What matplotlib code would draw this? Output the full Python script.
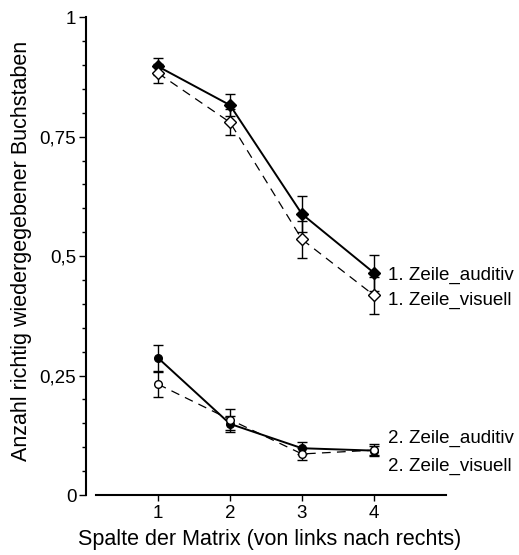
import matplotlib
matplotlib.use("Agg")
import matplotlib.pyplot as plt
from matplotlib.ticker import MultipleLocator

plt.rcParams['font.family'] = ['Liberation Sans', 'DejaVu Sans']
plt.rcParams['font.size'] = 13.5

# Spalte der Matrix
spalten = [1, 2, 3, 4]

# 1. Zeile
z1_auditiv = [0.897, 0.816, 0.588, 0.465]
z1_auditiv_err = [0.017, 0.023, 0.038, 0.038]
z1_visuell = [0.883, 0.780, 0.535, 0.418]
z1_visuell_err = [0.020, 0.027, 0.038, 0.039]

# 2. Zeile
z2_auditiv = [0.287, 0.149, 0.098, 0.093]
z2_auditiv_err = [0.028, 0.016, 0.012, 0.010]
z2_visuell = [0.232, 0.158, 0.086, 0.094]
z2_visuell_err = [0.026, 0.022, 0.013, 0.012]

series_labels = ['1. Zeile_auditiv', '1. Zeile_visuell',
                 '2. Zeile_auditiv', '2. Zeile_visuell']
label_y = [0.46, 0.408, 0.119, 0.059]

ytick_vals = [0, 0.25, 0.5, 0.75, 1]
ytick_labels = ['0', '0,25', '0,5', '0,75', '1']

fig = plt.figure(figsize=(5.19, 5.55), dpi=100)
ax = fig.add_axes([0.1657, 0.108, 0.6936, 0.861])

err_kw = dict(ecolor='black', elinewidth=1.0, capsize=3.5, capthick=1.0, zorder=3)

# solid lines with filled markers (auditiv), dashed with open markers (visuell)
ax.errorbar(spalten, z1_auditiv, yerr=z1_auditiv_err, color='black', lw=1.4,
            marker='D', ms=6, mfc='black', mec='black', **err_kw)
ax.errorbar(spalten, z1_visuell, yerr=z1_visuell_err, color='black', lw=0.9,
            ls=(0, (7, 5)), marker='D', ms=6, mfc='white', mec='black',
            mew=1.0, **err_kw)
ax.errorbar(spalten, z2_auditiv, yerr=z2_auditiv_err, color='black', lw=1.4,
            marker='o', ms=5.5, mfc='black', mec='black', **err_kw)
ax.errorbar(spalten, z2_visuell, yerr=z2_visuell_err, color='black', lw=0.9,
            ls=(0, (7, 5)), marker='o', ms=5.5, mfc='white', mec='black',
            mew=1.0, **err_kw)

for lab, yy in zip(series_labels, label_y):
    ax.text(4.19, yy, lab, ha='left', va='center', fontsize=13.5, clip_on=False)

ax.set_xlim(0, 5)
ax.set_ylim(0, 1)
ax.set_xticks(spalten)
ax.set_yticks(ytick_vals)
ax.set_yticklabels(ytick_labels)
ax.yaxis.set_minor_locator(MultipleLocator(0.05))

for s in ['top', 'right']:
    ax.spines[s].set_visible(False)
ax.spines['left'].set_linewidth(1.5)
ax.spines['bottom'].set_linewidth(1.5)
ax.spines['bottom'].set_bounds(0.14, 5)

ax.tick_params(axis='both', which='major', labelsize=13.5)
ax.tick_params(axis='y', which='major', length=5, width=1.0, direction='out', pad=2)
ax.tick_params(axis='y', which='minor', length=3, width=1.0, direction='out')
ax.tick_params(axis='x', which='major', length=4, width=1.0, direction='out', pad=3)

ax.set_xlabel('Spalte der Matrix (von links nach rechts)', fontsize=15.5)
ax.set_ylabel('Anzahl richtig wiedergegebener Buchstaben', fontsize=15.5)
ax.xaxis.set_label_coords(0.511, -0.07)
ax.yaxis.set_label_coords(-0.15, 0.51)

fig.savefig('out.png', dpi=100)
